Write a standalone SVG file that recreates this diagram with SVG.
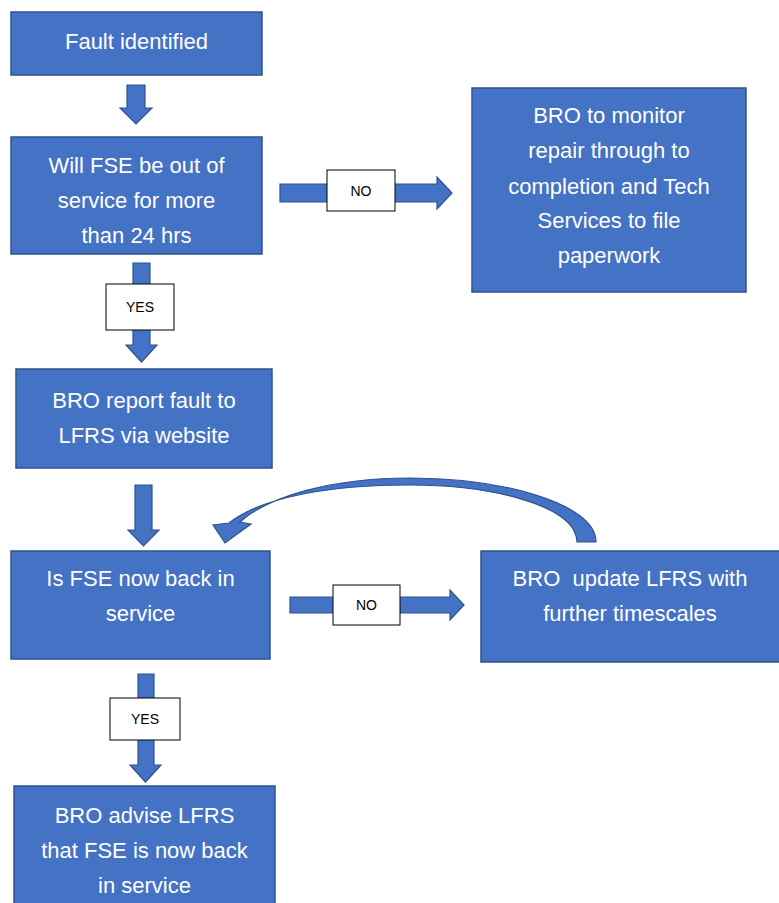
<svg xmlns="http://www.w3.org/2000/svg" width="779" height="903" viewBox="0 0 779 903">
<style>
.box{fill:#4472C4;stroke:#2F528F;stroke-width:1.5}
.t{font-family:"Liberation Sans",Arial,sans-serif;font-size:22px;fill:#fff;text-anchor:middle}
.arr{fill:#4472C4;stroke:#2F528F;stroke-width:1.2}
.lbl{fill:#fff;stroke:#000;stroke-width:1}
.lt{font-family:"Liberation Sans",Arial,sans-serif;font-size:14px;fill:#000;text-anchor:middle}
</style>
<rect width="779" height="903" fill="#fff"/>
<g id="connectors">
<polygon class="arr" points="127,85 145,85 145,108 152,108 136,124 120,108 127,108"/>
<polygon class="arr" points="280,184 437,184 437,177 452,193 437,209 437,202 280,202"/>
<polygon class="arr" points="133,263 150,263 150,345 157,345 141.5,362 126,345 133,345"/>
<polygon class="arr" points="135,485 152,485 152,530 159,530 143.5,546 128,530 135,530"/>
<polygon class="arr" points="290,597 450,597 450,590 464,605 450,620 450,613 290,613"/>
<polygon class="arr" points="138,674 154,674 154,765 161,765 145.5,782 130,765 138,765"/>
<path class="arr" d="M 596 542 C 596 503 500 478 410 478 C 330 478 268 497 240 522 L 251 524 L 225 543 L 213 525 L 229 523 C 262 497 330 485 410 485 C 490 485 576 505 577 542 Z"/>
<rect class="lbl" x="327" y="170" width="68" height="41"/>
<text class="lt" x="361" y="196">NO</text>
<rect class="lbl" x="106" y="284" width="68" height="46"/>
<text class="lt" x="140" y="312">YES</text>
<rect class="lbl" x="333" y="585" width="67" height="40"/>
<text class="lt" x="366.5" y="610">NO</text>
<rect class="lbl" x="110" y="698" width="70" height="42"/>
<text class="lt" x="145" y="724">YES</text>
</g>
<g id="n1">
<rect class="box" x="11" y="12" width="251" height="63"/>
<text class="t" x="136.5" y="49">Fault identified</text>
</g>
<g id="n2">
<rect class="box" x="11" y="137" width="251" height="117"/>
<text class="t" x="136.5" y="173">Will FSE be out of</text>
<text class="t" x="136.5" y="208">service for more</text>
<text class="t" x="136.5" y="243">than 24 hrs</text>
</g>
<g id="n3">
<rect class="box" x="472" y="88" width="274" height="204"/>
<text class="t" x="609" y="123">BRO to monitor</text>
<text class="t" x="609" y="158">repair through to</text>
<text class="t" x="609" y="194">completion and Tech</text>
<text class="t" x="609" y="228">Services to file</text>
<text class="t" x="609" y="263">paperwork</text>
</g>
<g id="n4">
<rect class="box" x="16" y="369" width="256" height="99"/>
<text class="t" x="144" y="408">BRO report fault to</text>
<text class="t" x="144" y="443">LFRS via website</text>
</g>
<g id="n5">
<rect class="box" x="11" y="551" width="259" height="108"/>
<text class="t" x="140.5" y="586">Is FSE now back in</text>
<text class="t" x="140.5" y="621">service</text>
</g>
<g id="n6">
<rect class="box" x="481" y="551" width="300" height="111"/>
<text class="t" x="630" y="586" xml:space="preserve">BRO  update LFRS with</text>
<text class="t" x="630" y="621">further timescales</text>
</g>
<g id="n7">
<rect class="box" x="14" y="786" width="261" height="120"/>
<text class="t" x="144.5" y="823">BRO advise LFRS</text>
<text class="t" x="144.5" y="858">that FSE is now back</text>
<text class="t" x="144.5" y="893">in service</text>
</g>
</svg>
